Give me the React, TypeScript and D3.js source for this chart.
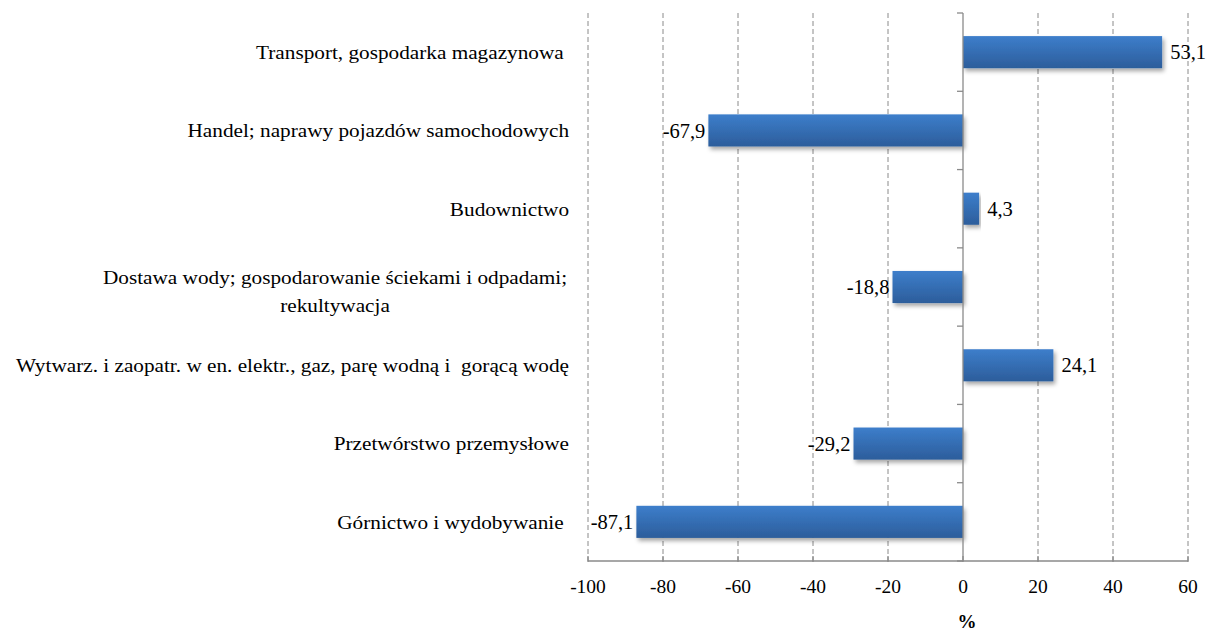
import React from "react";
import * as d3 from "d3";

const categories = [
  "Transport, gospodarka magazynowa ",
  "Handel; naprawy pojazdów samochodowych",
  "Budownictwo",
  "Dostawa wody; gospodarowanie ściekami i odpadami;\nrekultywacja",
  "Wytwarz. i zaopatr. w en. elektr., gaz, parę wodną i  gorącą wodę",
  "Przetwórstwo przemysłowe",
  "Górnictwo i wydobywanie ",
];
const values = [53.1, -67.9, 4.3, -18.8, 24.1, -29.2, -87.1];
const xTicks = [-100, -80, -60, -40, -20, 0, 20, 40, 60];
const axisTitle = "%";

const W = 1210;
const H = 635;
const left = 588;
const right = 1188;
const top = 13;
const bottom = 561;
const font = "Liberation Serif, Tinos, Times New Roman, DejaVu Serif, serif";
const gridColor = "#8a8a8a";
// the source picture is a bit wider than tall, so the labels get stretched
const stretch = 1.09;

export default function App() {
  const x = d3.scaleLinear().domain([-100, 60]).range([left, right]);
  const y = d3
    .scaleBand<string>()
    .domain(categories)
    .range([top, bottom])
    .paddingInner(0.59)
    .paddingOuter(0.295);
  const band = (bottom - top) / categories.length;
  const fmt = (v: number) => String(v).replace(".", ",");

  return (
    <div style={{ position: "absolute", left: 0, top: 0 }}>
      <svg
        width={W}
        height={H}
        style={{ display: "block", background: "#fff", fontFamily: font }}
      >
        <defs>
          <linearGradient id="barGrad" x1="0" y1="0" x2="0" y2="1">
            <stop offset="0" stopColor="#3d7ecb" />
            <stop offset="1" stopColor="#2c5d9b" />
          </linearGradient>
          <filter id="shadow" x="-10%" y="-30%" width="120%" height="180%">
            <feDropShadow dx="2" dy="3" stdDeviation="2" floodColor="#000" floodOpacity="0.35" />
          </filter>
        </defs>

        {/* dashed grid */}
        {xTicks
          .filter((t) => t !== 0)
          .map((t) => (
            <line
              key={t}
              x1={x(t)}
              x2={x(t)}
              y1={top}
              y2={bottom}
              stroke={gridColor}
              strokeWidth={1}
              strokeDasharray="5,3"
            />
          ))}

        {/* bars */}
        {values.map((v, i) => (
          <rect
            key={i}
            x={x(Math.min(0, v))}
            y={y(categories[i])}
            width={Math.abs(x(v) - x(0))}
            height={y.bandwidth()}
            fill="url(#barGrad)"
            filter="url(#shadow)"
          />
        ))}

        {/* zero axis with ticks */}
        <line x1={x(0)} x2={x(0)} y1={top} y2={bottom} stroke={gridColor} strokeWidth={1.3} />
        {d3.range(categories.length + 1).map((i) => (
          <line
            key={i}
            x1={x(0) - 6}
            x2={x(0)}
            y1={top + i * band}
            y2={top + i * band}
            stroke={gridColor}
            strokeWidth={1.3}
          />
        ))}

        {/* bottom axis */}
        <line x1={left} x2={right} y1={bottom} y2={bottom} stroke={gridColor} strokeWidth={1.3} />
        {xTicks.map((t) => (
          <g key={t}>
            <line x1={x(t)} x2={x(t)} y1={bottom - 5} y2={bottom + 1} stroke={gridColor} strokeWidth={1.3} />
            <text x={x(t)} y={593} textAnchor="middle" fontSize={19.5} fill="#000">
              {t}
            </text>
          </g>
        ))}
        <text x={967} y={628} textAnchor="middle" fontSize={19} fontWeight="bold">
          {axisTitle}
        </text>

        {/* value labels */}
        {values.map((v, i) => (
          <text
            key={i}
            x={v < 0 ? x(v) - 3 : x(v) + 8}
            y={(y(categories[i]) ?? 0) + y.bandwidth() / 2}
            dy="0.35em"
            textAnchor={v < 0 ? "end" : "start"}
            fontSize={20.5}
            fill="#000"
          >
            {fmt(v)}
          </text>
        ))}

        {/* category labels */}
        {categories.map((c, i) => {
          const lines = c.split("\n");
          const cy = (y(c) ?? 0) + y.bandwidth() / 2;
          if (lines.length === 1) {
            return (
              <g key={i} transform={`translate(569,${cy}) scale(${stretch},1)`}>
                <text
                  dy="0.35em"
                  textAnchor="end"
                  fontSize={19.5}
                  fill="#000"
                  style={{ whiteSpace: "pre" }}
                >
                  {c}
                </text>
              </g>
            );
          }
          return (
            <g key={i} transform={`translate(335,${cy - 10}) scale(${stretch},1)`}>
              <text textAnchor="middle" fontSize={19.5} fill="#000">
                {lines.map((l, j) => (
                  <tspan key={j} x={0} dy={j === 0 ? "0.35em" : 28}>
                    {l}
                  </tspan>
                ))}
              </text>
            </g>
          );
        })}
      </svg>
    </div>
  );
}
